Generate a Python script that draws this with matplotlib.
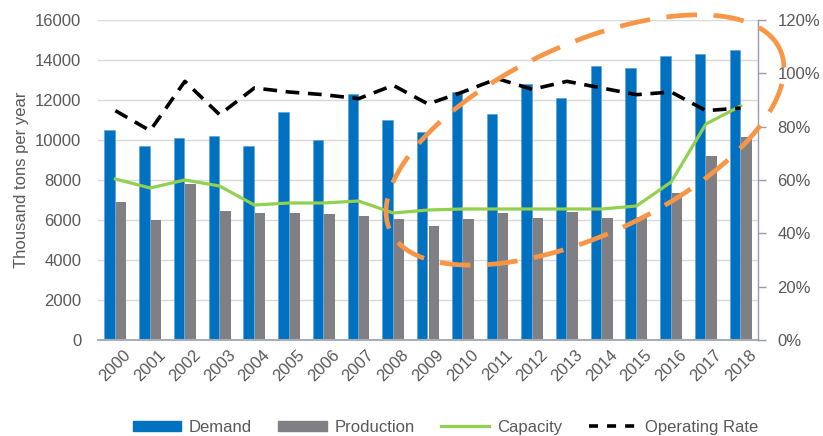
import numpy as np
import matplotlib
matplotlib.use("Agg")
import matplotlib.pyplot as plt
from matplotlib.lines import Line2D
from matplotlib.patches import Patch

plt.rcParams['font.family'] = ['Liberation Sans', 'DejaVu Sans']

years = ['2000', '2001', '2002', '2003', '2004', '2005', '2006', '2007', '2008', '2009',
         '2010', '2011', '2012', '2013', '2014', '2015', '2016', '2017', '2018']
demand = [10500, 9700, 10100, 10200, 9700, 11400, 10000, 12300, 11000, 10400,
          12400, 11300, 12800, 12100, 13700, 13600, 14200, 14300, 14500]
production = [6900, 6000, 7800, 6450, 6350, 6350, 6300, 6200, 6050, 5700,
              6050, 6350, 6100, 6400, 6100, 6150, 7350, 9200, 10150]
capacity = [8050, 7600, 8000, 7700, 6750, 6850, 6850, 6950, 6350, 6500,
            6550, 6550, 6550, 6550, 6550, 6700, 7900, 10800, 11700]
operating_rate = [86, 78.5, 97, 84.5, 94.5, 93, 92, 90.5, 95.5, 88.5,
                  93, 98, 94, 97, 94.5, 92, 93, 86, 87]

W, H = 823, 436
fig = plt.figure(figsize=(W / 100, H / 100), dpi=100)
ax = fig.add_axes([98 / W, 1 - 340 / H, 660 / W, 320 / H])
ax2 = ax.twinx()

x = np.arange(len(years))
bw = 0.3
blue = '#0070C0'
grey = '#808084'
green = '#92D050'
txt = '#595959'

ax.set_zorder(1)
ax.patch.set_visible(False)
ax2.set_zorder(2)

ax.bar(x - 0.165, demand, width=bw, color=blue, edgecolor='#5B9BD5', linewidth=0.4, zorder=2)
ax.bar(x + 0.165, production, width=bw, color=grey, zorder=2)
ax.plot(x, capacity, color=green, lw=2.3, zorder=3)
ax2.plot(x, operating_rate, color='black', lw=2.6, dashes=(3.8, 2.4), zorder=3)

ax.set_xlim(-0.5, len(years) - 0.5)
ax.set_ylim(0, 16000)
ax.set_yticks(np.arange(0, 16001, 2000))
ax2.set_ylim(0, 120)
ax2.set_yticks(np.arange(0, 121, 20))
ax2.set_yticklabels([f'{v}%' for v in range(0, 121, 20)])

ax.grid(axis='y', color='#D9D9D9', lw=1.0, zorder=0)
ax.set_axisbelow(True)
for s in ['top', 'left', 'right']:
    ax.spines[s].set_visible(False)
ax.spines['bottom'].set_color('#A6AEB8')
ax.spines['bottom'].set_linewidth(1.5)
for s in ['top', 'left', 'bottom']:
    ax2.spines[s].set_visible(False)
ax2.spines['right'].set_color('#9A9AAE')
ax2.spines['right'].set_linewidth(1.0)

ax.tick_params(axis='y', length=0, pad=12, labelsize=12, labelcolor=txt)
ax.tick_params(axis='x', length=0, pad=5, labelsize=12, labelcolor=txt)
ax2.tick_params(axis='y', length=6, width=1, color='#9A9AAE', pad=8, labelsize=12, labelcolor=txt)
ax.set_xticks(x)
ax.set_xticklabels(years, rotation=45, ha='center')
ax.set_ylabel('Thousand tons per year', fontsize=12, color=txt, labelpad=4)

handles = [Patch(color=blue), Patch(color=grey),
           Line2D([], [], color=green, lw=2.3),
           Line2D([], [], color='black', lw=2.6, dashes=(2.5, 2.5))]
labels = ['Demand', 'Production', 'Capacity', 'Operating Rate']
fig.legend(handles, labels, loc='center', bbox_to_anchor=(0.541, 0.02), ncol=4,
           frameon=False, fontsize=12, handlelength=2.9, handleheight=0.6,
           columnspacing=1.6, handletextpad=0.45, labelcolor=txt)

# Orange dashed annotation ellipse (figure pixel geometry)
cx, cy, a, b, ang = 585, 140, 215, 95, np.deg2rad(25)
t = np.linspace(0, 2 * np.pi, 400)
ex = cx + a * np.cos(t) * np.cos(ang) - b * np.sin(t) * np.sin(ang)
ey_up = (H - cy) + a * np.cos(t) * np.sin(ang) + b * np.sin(t) * np.cos(ang)
fig.add_artist(Line2D(ex / W, ey_up / H, transform=fig.transFigure, color='#F79646',
                      lw=3.4, dashes=(6.5, 3.5), zorder=10, clip_on=False))

fig.savefig('out.png', dpi=100)
